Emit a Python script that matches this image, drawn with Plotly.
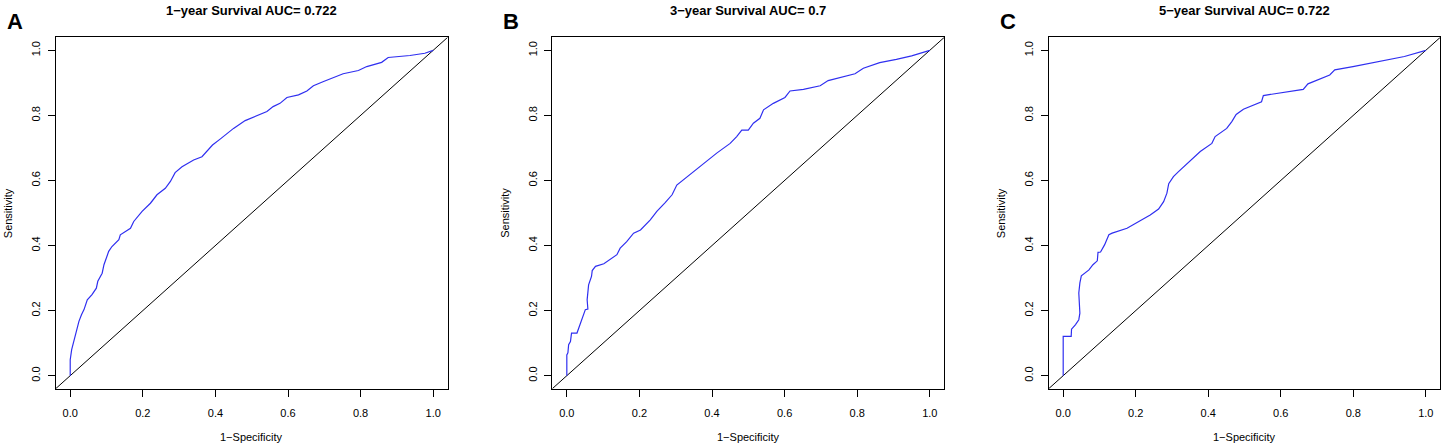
import plotly.graph_objects as go

# ---- data ----
panel_letters = ["A", "B", "C"]
titles = ["1\u2212year Survival AUC= 0.722", "3\u2212year Survival AUC= 0.7", "5\u2212year Survival AUC= 0.722"]
tick_vals = [0.0, 0.2, 0.4, 0.6, 0.8, 1.0]
tick_text = ["0.0", "0.2", "0.4", "0.6", "0.8", "1.0"]
x_label = "1\u2212Specificity"
y_label = "Sensitivity"

fpr_1y = [0, 0, 0.004, 0.010, 0.017, 0.024, 0.031, 0.038, 0.047, 0.060, 0.072, 0.076, 0.088, 0.093,
          0.106, 0.115, 0.134, 0.138, 0.166, 0.175, 0.198, 0.221, 0.239, 0.262, 0.276, 0.289, 0.308,
          0.326, 0.340, 0.363, 0.377, 0.392, 0.413, 0.432, 0.450, 0.482, 0.514, 0.542, 0.559, 0.578,
          0.597, 0.629, 0.652, 0.670, 0.698, 0.725, 0.752, 0.794, 0.817, 0.858, 0.876, 0.936, 0.977, 1.0]
tpr_1y = [0, 0.049, 0.080, 0.105, 0.141, 0.167, 0.187, 0.203, 0.233, 0.249, 0.269, 0.290, 0.315, 0.341,
          0.382, 0.397, 0.418, 0.433, 0.453, 0.474, 0.505, 0.530, 0.556, 0.576, 0.597, 0.624, 0.642,
          0.653, 0.663, 0.673, 0.689, 0.709, 0.727, 0.745, 0.760, 0.784, 0.798, 0.812, 0.827, 0.837,
          0.855, 0.863, 0.875, 0.891, 0.904, 0.916, 0.928, 0.938, 0.950, 0.963, 0.978, 0.984, 0.991, 1.0]

fpr_3y = [0, 0, 0.003, 0.005, 0.010, 0.013, 0.028, 0.033, 0.042, 0.047, 0.051, 0.058, 0.056, 0.060,
          0.068, 0.070, 0.079, 0.102, 0.111, 0.138, 0.147, 0.165, 0.184, 0.203, 0.230, 0.248, 0.271,
          0.290, 0.303, 0.326, 0.354, 0.386, 0.413, 0.450, 0.468, 0.482, 0.500, 0.514, 0.532, 0.542,
          0.569, 0.601, 0.610, 0.615, 0.652, 0.698, 0.720, 0.761, 0.794, 0.817, 0.862, 0.908, 0.950, 1.0]
tpr_3y = [0, 0.064, 0.070, 0.095, 0.105, 0.131, 0.131, 0.146, 0.172, 0.192, 0.203, 0.205, 0.233, 0.279,
          0.305, 0.323, 0.336, 0.344, 0.351, 0.372, 0.392, 0.412, 0.438, 0.448, 0.479, 0.505, 0.532,
          0.556, 0.586, 0.607, 0.633, 0.660, 0.684, 0.714, 0.735, 0.755, 0.755, 0.776, 0.791, 0.817,
          0.837, 0.855, 0.868, 0.875, 0.880, 0.891, 0.907, 0.919, 0.928, 0.945, 0.962, 0.972, 0.983, 1.0]

fpr_5y = [0, 0, 0.022, 0.023, 0.034, 0.043, 0.046, 0.043, 0.046, 0.050, 0.071, 0.082, 0.094, 0.096,
          0.103, 0.114, 0.126, 0.135, 0.176, 0.203, 0.217, 0.240, 0.263, 0.277, 0.286, 0.291, 0.304,
          0.318, 0.350, 0.378, 0.410, 0.419, 0.451, 0.465, 0.477, 0.497, 0.547, 0.552, 0.662, 0.675,
          0.735, 0.749, 0.799, 0.863, 0.941, 1.0]
tpr_5y = [0, 0.121, 0.121, 0.143, 0.157, 0.172, 0.192, 0.254, 0.285, 0.307, 0.325, 0.341, 0.353, 0.379,
          0.380, 0.402, 0.433, 0.438, 0.453, 0.469, 0.479, 0.494, 0.512, 0.535, 0.561, 0.590, 0.612,
          0.627, 0.660, 0.689, 0.714, 0.735, 0.760, 0.781, 0.803, 0.819, 0.842, 0.861, 0.880, 0.897,
          0.924, 0.940, 0.950, 0.965, 0.981, 1.0]

curves = [(fpr_1y, tpr_1y), (fpr_3y, tpr_3y), (fpr_5y, tpr_5y)]
axis_range = [-0.04, 1.04]

# ---- layout geometry (page body margin removed below, so figure fills the window) ----
W, H = 1446, 448
def px(v):
    return v / W
def py(v):
    return 1 - v / H

x_domains = [[px(55.7), px(447.7)], [px(552.3), px(944.3)], [px(1048.7), px(1440.3)]]
y_domain = [py(388.7), py(37.3)]
FONT = "Liberation Sans, Arial, Helvetica, sans-serif"

fig = go.Figure()
annotations = []
for i, (fx, ty) in enumerate(curves):
    n = "" if i == 0 else str(i + 1)
    xa, ya = "x" + n, "y" + n
    # diagonal reference line across the full plotting region
    fig.add_trace(go.Scatter(x=axis_range, y=axis_range, mode="lines",
                             line=dict(color="black", width=1), xaxis=xa, yaxis=ya,
                             showlegend=False, hoverinfo="skip"))
    fig.add_trace(go.Scatter(x=fx, y=ty, mode="lines",
                             line=dict(color="#2f2ff0", width=1.2), xaxis=xa, yaxis=ya,
                             showlegend=False))
    axis_common = dict(range=axis_range, tickvals=tick_vals, ticktext=tick_text,
                       showgrid=False, zeroline=False, showline=True, mirror=True,
                       linecolor="black", linewidth=1, ticks="outside", ticklen=7,
                       tickcolor="black", tickwidth=1, ticklabelposition="outside",
                       tickfont=dict(family=FONT, size=11, color="black"))
    fig.layout["xaxis" + n] = dict(domain=x_domains[i], anchor=ya, ticklabelstandoff=7,
                                   **axis_common)
    fig.layout["yaxis" + n] = dict(domain=y_domain, anchor=xa, tickangle=-90,
                                   ticklabelstandoff=3, **axis_common)
    xl = x_domains[i][0] * W
    xr = x_domains[i][1] * W
    xc_px = (xl + xr) / 2
    annotations.append(dict(text="<b>" + titles[i] + "</b>", x=px(xc_px), y=py(10),
                            xref="paper", yref="paper", xanchor="center", yanchor="middle",
                            showarrow=False, font=dict(family=FONT, size=13, color="black")))
    annotations.append(dict(text=x_label, x=px(xc_px), y=py(437), xref="paper", yref="paper",
                            xanchor="center", yanchor="middle", showarrow=False,
                            font=dict(family=FONT, size=11, color="black")))
    annotations.append(dict(text=y_label, x=px(xl - 47.5),
                            y=(y_domain[0] + y_domain[1]) / 2, xref="paper", yref="paper",
                            xanchor="center", yanchor="middle", textangle=-90, showarrow=False,
                            font=dict(family=FONT, size=11, color="black")))
    annotations.append(dict(text="<b>" + panel_letters[i] + "</b>",
                            x=px(xl - 41), y=py(21), xref="paper", yref="paper",
                            xanchor="center", yanchor="middle", showarrow=False,
                            font=dict(family=FONT, size=22, color="black")))

fig.update_layout(width=W, height=H, margin=dict(l=0, r=0, t=0, b=0),
                  paper_bgcolor="white", plot_bgcolor="white",
                  annotations=annotations, showlegend=False)

fig.write_html("out.html", config={"displayModeBar": False},
               post_script="document.body.style.margin='0';document.body.style.overflow='hidden';")
